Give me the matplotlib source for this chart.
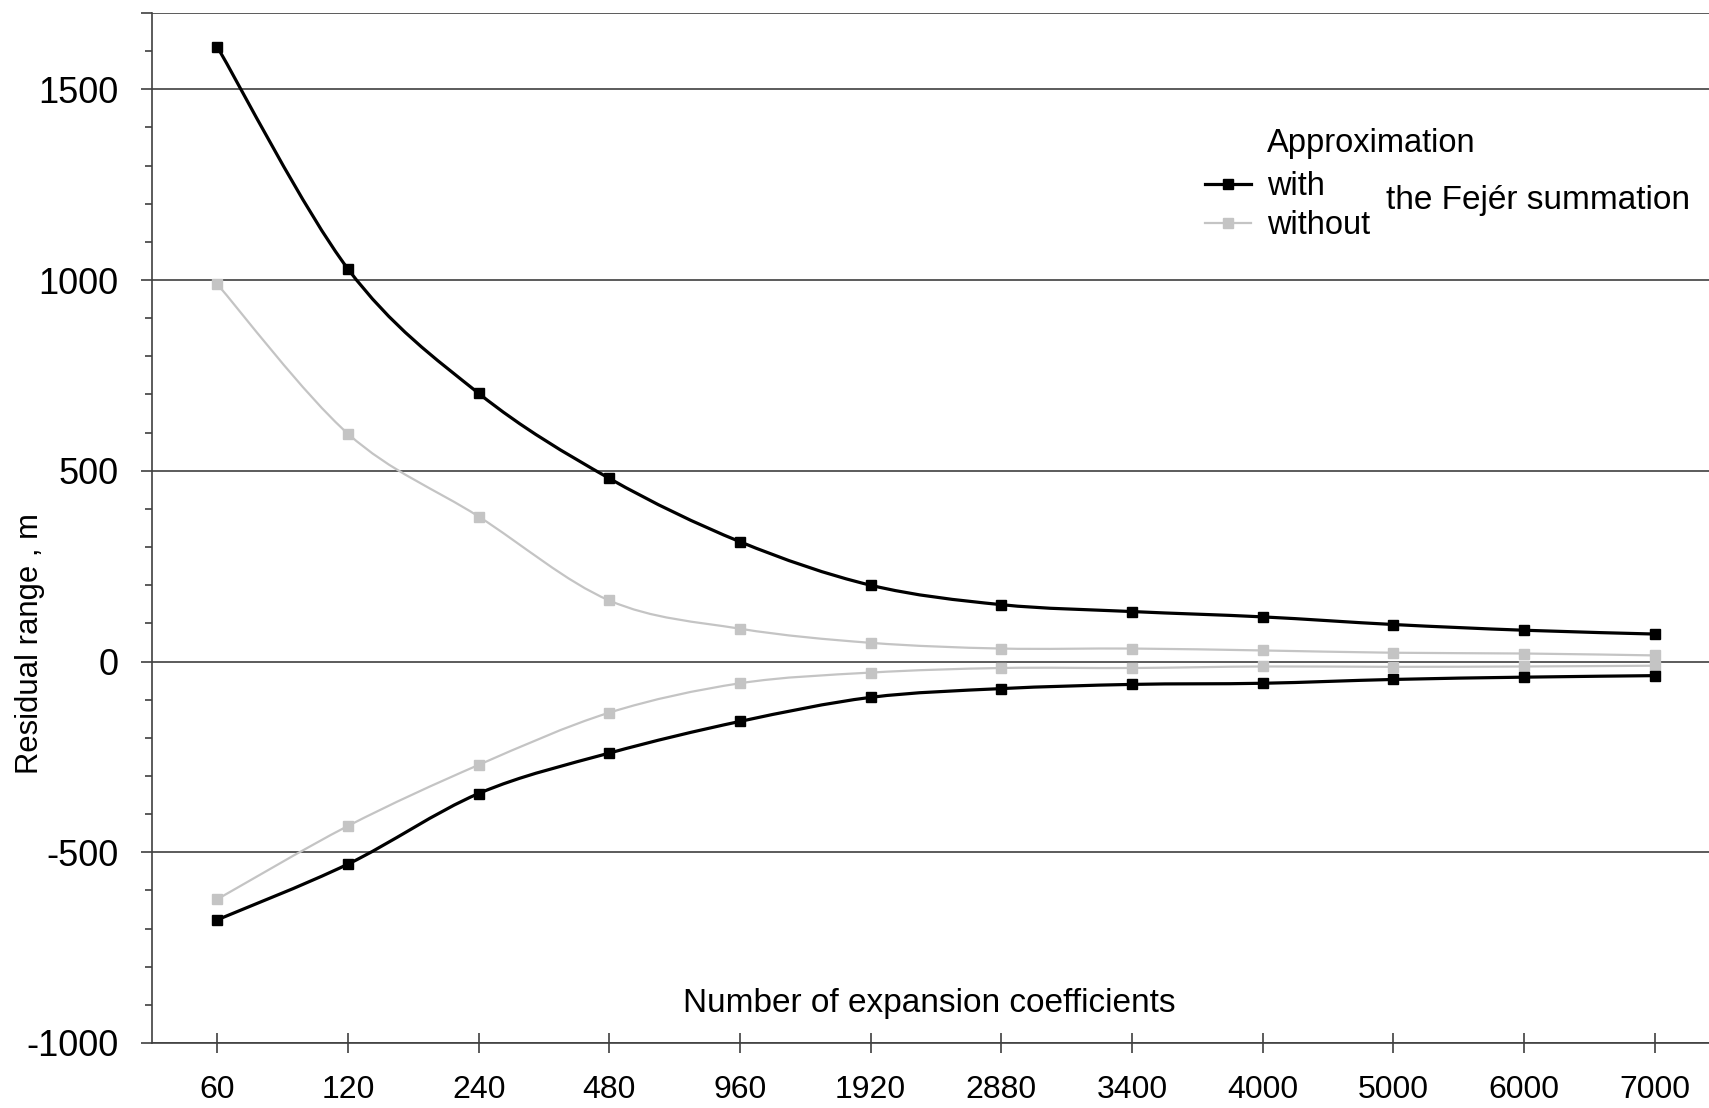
import numpy as np
import matplotlib
matplotlib.use('Agg')
import matplotlib.pyplot as plt
from matplotlib.path import Path
from matplotlib.patches import PathPatch
from matplotlib.lines import Line2D

plt.rcParams['font.family'] = ['Liberation Sans', 'DejaVu Sans']

# Datos
coeficientes = ['60', '120', '240', '480', '960', '1920', '2880', '3400', '4000', '5000', '6000', '7000']
con_sup = [1611, 1029, 703, 480, 314, 200, 149, 131, 117, 97, 82, 72]
con_inf = [-677, -531, -346, -240, -157, -94, -71, -60, -57, -47, -41, -37]
sin_sup = [989, 597, 380, 160, 86, 49, 34, 34, 29, 23, 21, 16]
sin_inf = [-623, -431, -271, -134, -57, -29, -17, -17, -13, -14, -13, -11]

yticks = [-1000, -500, 0, 500, 1000, 1500, 1700]
yticklabels = ['-1000', '-500', '0', '500', '1000', '1500', '']

NEGRO = '#000000'
GRIS = '#c4c4c4'
LINEA = '#404040'


def curva_suave(x, y):
    # Curva tipo Catmull-Rom (como las lineas suavizadas de Excel)
    pts = np.column_stack([x, y]).astype(float)
    n = len(pts)
    verts = [pts[0]]
    codes = [Path.MOVETO]
    for i in range(n - 1):
        p0 = pts[i - 1] if i > 0 else pts[i]
        p1 = pts[i]
        p2 = pts[i + 1]
        p3 = pts[i + 2] if i + 2 < n else pts[i + 1]
        c1 = p1 + (p2 - p0) / 6.0
        c2 = p2 - (p3 - p1) / 6.0
        verts += [c1, c2, p2]
        codes += [Path.CURVE4] * 3
    return Path(verts, codes)


fig = plt.figure(figsize=(17.09, 11.08), dpi=100)
ax = fig.add_axes([152 / 1709, 1 - 1043 / 1108, 1568 / 1709, (1043 - 13) / 1108])

x = np.arange(len(coeficientes))

# Lineas grises (sin Fejer) primero
for serie in (sin_sup, sin_inf):
    ax.add_patch(PathPatch(curva_suave(x, serie), fill=False, edgecolor=GRIS, lw=1.6, zorder=3))
    ax.plot(x, serie, ls='none', marker='s', ms=7, color=GRIS, zorder=4)

for serie in (con_sup, con_inf):
    ax.add_patch(PathPatch(curva_suave(x, serie), fill=False, edgecolor=NEGRO, lw=2.3, zorder=5))
    ax.plot(x, serie, ls='none', marker='s', ms=7, color=NEGRO, zorder=6)

ax.set_xlim(-0.5, 11.5)
ax.set_ylim(-1000, 1700)

ax.set_xticks(x)
ax.set_xticklabels(coeficientes, fontsize=23)
ax.set_yticks(yticks)
ax.set_yticklabels(yticklabels, fontsize=26)
ax.set_yticks(np.arange(-1000, 1701, 100), minor=True)

ax.tick_params(axis='x', direction='inout', length=15, width=1.2, color=LINEA, pad=15.5)
ax.tick_params(axis='y', which='major', direction='out', length=8, width=1.2, color=LINEA, pad=16)
ax.tick_params(axis='y', which='minor', direction='out', length=5, width=1.2, color=LINEA)

ax.grid(axis='y', which='major', color=LINEA, lw=1.2, zorder=1)
for s in ('top', 'right'):
    ax.spines[s].set_visible(False)
for s in ('left', 'bottom'):
    ax.spines[s].set_color(LINEA)
    ax.spines[s].set_linewidth(1.2)

# Titulos de ejes
fig.text(30 / 1709, 1 - 644 / 1108, 'Residual range , m', rotation=90,
         ha='center', va='center', fontsize=22.3)
ax.text(5.45, -896, 'Number of expansion coefficients', ha='center', va='center', fontsize=24)

# Leyenda
h_con = Line2D([], [], color=NEGRO, lw=2.3, marker='s', ms=7)
h_sin = Line2D([], [], color=GRIS, lw=1.6, marker='s', ms=7)
leg = fig.legend([h_con, h_sin], ['with', 'without'],
                 loc='upper left', bbox_to_anchor=(1205 / 1709, 1 - 171 / 1108),
                 frameon=False, fontsize=23.5,
                 handlelength=1.4, handletextpad=0.5, labelspacing=0.25,
                 borderpad=0, borderaxespad=0)
fig.text(1267 / 1709, 1 - 143 / 1108, 'Approximation', ha='left', va='center', fontsize=23.5)
fig.text(1386 / 1709, 1 - 200 / 1108, 'the Fejér summation', ha='left', va='center', fontsize=24)

fig.savefig('out.png', dpi=100)
